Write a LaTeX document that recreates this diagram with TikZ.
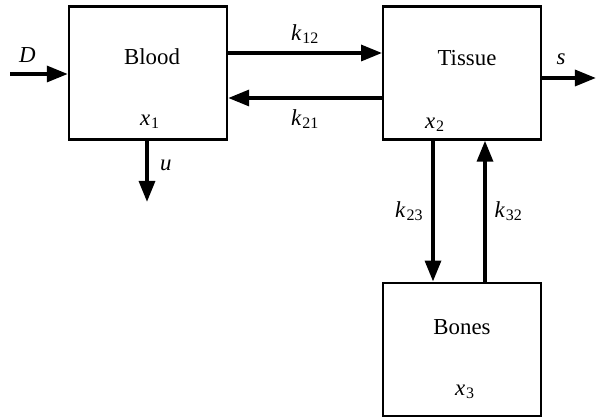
\documentclass[tikz,border=0pt]{standalone}
\usepackage{fontspec}
\setmainfont{Liberation Serif}
\usetikzlibrary{positioning,arrows.meta}
\newcommand{\qty}[2]{\textit{#1}\kern0.5pt\textsubscript{#2}}

\begin{document}
\begin{tikzpicture}[x=0.02cm, y=-0.02cm,
		compartment/.style={draw, line width=1.3pt, minimum width=3.16cm, minimum height=2.66cm, inner sep=0pt},
		flow/.style={line width=2.2pt, -{Triangle[length=12pt,width=9pt]}},
		font=\fontsize{13}{15}\selectfont
		]
	\useasboundingbox (0,0) rectangle (596,418);
	\node [compartment] (blood) at (148,73) {};
	\node [compartment, right=3.08cm of blood] (tissue) {};
	\node [compartment, below=2.82cm of tissue] (bones) {};
	\node (nblood) at (152,57) {Blood};
	\node (ntissue) at (467,58) {Tissue};
	\node (nbones) at (462,327) {Bones};
	\node (x1) at (150,122) {\qty{x}{1}};
	\node (x2) at (435,125) {\qty{x}{2}};
	\node (x3) at (465,392) {\qty{x}{3}};
	\coordinate (din) at (10,74);
	\coordinate (sout) at (596,78);
	\coordinate (uout) at (147,202);
	\draw [flow] (din) -- node [above=2pt, pos=0.3] (ld) {\textit{D}} (blood.west |- din);
	\draw [flow] (tissue.east |- sout) -- node [above=3pt, pos=0.35] (ls) {\textit{s}} (sout);
	\draw [flow] (blood.south -| uout) -- node [right=3pt, pos=0.4] (lu) {\textit{u}} (uout);
	\draw [flow] (blood.east |- 0,53) -- node [above=1pt] (lk12) {\qty{k}{12}} (tissue.west |- 0,53);
	\draw [flow] (tissue.west |- 0,98) -- node [below=2pt] (lk21) {\qty{k}{21}} (blood.east |- 0,98);
	\draw [flow] (tissue.south -| 433,0) -- node [left=1pt, pos=0.5] (lk23) {\qty{k}{23}} (bones.north -| 433,0);
	\draw [flow] (bones.north -| 485,0) -- node [right=1pt, pos=0.5] (lk32) {\qty{k}{32}} (tissue.south -| 485,0);
\end{tikzpicture}
\end{document}
